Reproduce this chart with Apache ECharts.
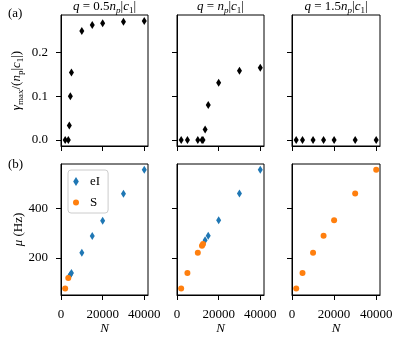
<!DOCTYPE html>
<html>
<head>
<meta charset="utf-8">
<script src="https://cdn.jsdelivr.net/npm/echarts@6/dist/echarts.min.js"></script>
<style>
  html, body { margin: 0; padding: 0; background: #fff; }
  #chart { width: 407px; height: 349px; }
</style>
</head>
<body>
<div id="chart"></div>
<script>
// ---- data ----
// row (a): gamma_max / (n_p |c_1|)
const nA1 = [2000, 3500, 4000, 4500, 5000, 10000, 15000, 20000, 30000, 40000]
const gA1 = [0, 0, 0.033, 0.1, 0.154, 0.249, 0.263, 0.267, 0.270, 0.272]
const nA2 = [2000, 5000, 10000, 12000, 12500, 13500, 15000, 20000, 30000, 40000]
const gA2 = [0, 0, 0, 0, 0, 0.024, 0.08, 0.131, 0.158, 0.165]
const nA3 = [2000, 5000, 10000, 15000, 20000, 30000, 40000]
const gA3 = [0, 0, 0, 0, 0, 0, 0]
// row (b): mu (Hz), split into eI and S
const nB1eI = [4000, 4500, 5000, 10000, 15000, 20000, 30000, 40000]
const muB1eI = [127, 133, 140, 221, 289, 350, 459, 556]
const nB1S = [2000, 3500]
const muB1S = [77, 120]
const nB2eI = [13500, 15000, 20000, 30000, 40000]
const muB2eI = [272, 290, 352, 460, 556]
const nB2S = [2000, 5000, 10000, 12000, 12500]
const muB2S = [77, 140, 221, 250, 257]
const nB3S = [2000, 5000, 10000, 15000, 20000, 30000, 40000]
const muB3S = [77, 140, 221, 290, 352, 460, 556]

const xTicks = [0, 20000, 40000]
const yTicksA = [0, 0.1, 0.2]
const yTicksB = [200, 400]

const FONT = 'Liberation Serif'
const BLUE = '#1f77b4'
const ORANGE = '#ff7f0e'
const DIAMOND = 'path://M5,0L10,8L5,16L0,8Z'

const zip = (a, b) => a.map((v, i) => [v, b[i]])

let myChart = echarts.init(document.getElementById('chart'))

const cols = [{ left: 61, width: 87 }, { left: 177, width: 87 }, { left: 292, width: 88 }]
const rows = [{ top: 15, height: 131 }, { top: 164, height: 131 }]

let grids = []
let xAxes = []
let yAxes = []
rows.forEach((r, ri) => {
  cols.forEach((c, ci) => {
    grids.push({
      left: c.left, top: r.top, width: c.width, height: r.height,
      show: true, borderColor: '#000', borderWidth: 1, backgroundColor: 'transparent'
    })
    let gi = ri * 3 + ci
    xAxes.push({
      gridIndex: gi,
      type: 'value',
      min: 0,
      max: 41800,
      axisLine: { show: true, onZero: false, lineStyle: { color: '#000', width: 1 } },
      axisTick: { show: true, length: 5, customValues: xTicks, lineStyle: { color: '#000' } },
      axisLabel: {
        show: ri === 1, customValues: xTicks, margin: 13,
        color: '#000', fontFamily: FONT, fontSize: 13,
        formatter: v => String(v)
      },
      splitLine: { show: false },
      name: ri === 1 ? 'N' : '',
      nameLocation: 'middle',
      nameGap: 27,
      nameTextStyle: { color: '#000', fontFamily: FONT, fontSize: 13, fontStyle: 'italic' }
    })
    yAxes.push({
      gridIndex: gi,
      type: 'value',
      min: ri === 0 ? -0.0136 : 51,
      max: ri === 0 ? 0.2856 : 579,
      axisLine: { show: true, onZero: false, lineStyle: { color: '#000', width: 1 } },
      axisTick: { show: true, length: 5, customValues: ri === 0 ? yTicksA : yTicksB, lineStyle: { color: '#000' } },
      axisLabel: {
        show: ci === 0, customValues: ri === 0 ? yTicksA : yTicksB, margin: 13,
        color: '#000', fontFamily: FONT, fontSize: 13,
        formatter: v => (ri === 0 ? v.toFixed(1) : String(v))
      },
      splitLine: { show: false }
    })
  })
})

// y axis names on the first column
yAxes[0].name = '{g|γ}{s|max}{t|/(}{i|n}{s|p}{t||}{i|c}{s|1}{t||)}'
yAxes[3].name = '{i|μ}{t| (Hz)}'
;[0, 3].forEach(k => {
  yAxes[k].nameLocation = 'middle'
  yAxes[k].nameGap = 36
  yAxes[k].nameTextStyle = {
    color: '#000', fontFamily: FONT, fontSize: 13,
    rich: {
      g: { fontFamily: FONT, fontSize: 13, fontStyle: 'italic', color: '#000' },
      i: { fontFamily: FONT, fontSize: 13, fontStyle: 'italic', color: '#000' },
      t: { fontFamily: FONT, fontSize: 13, color: '#000' },
      s: { fontFamily: FONT, fontSize: 9, color: '#000', padding: [7, 0, 0, 0] }
    }
  }
})

const titleRich = {
  i: { fontFamily: FONT, fontSize: 13, fontStyle: 'italic', fontWeight: 'normal', color: '#000' },
  t: { fontFamily: FONT, fontSize: 13, fontWeight: 'normal', color: '#000' },
  s: { fontFamily: FONT, fontSize: 9, fontWeight: 'normal', color: '#000', padding: [7, 0, 0, 0] },
  si: { fontFamily: FONT, fontSize: 9, fontStyle: 'italic', fontWeight: 'normal', color: '#000', padding: [7, 0, 0, 0] }
}
const titles = [
  '{i|q}{t| = 0.5}{i|n}{si|p}{t||}{i|c}{s|1}{t||}',
  '{i|q}{t| = }{i|n}{si|p}{t||}{i|c}{s|1}{t||}',
  '{i|q}{t| = 1.5}{i|n}{si|p}{t||}{i|c}{s|1}{t||}'
]

const scatter = (name, gi, data, symbol, size, color) => ({
  name: name,
  type: 'scatter',
  xAxisIndex: gi,
  yAxisIndex: gi,
  data: data,
  symbol: symbol,
  symbolSize: size,
  itemStyle: { color: color, opacity: 1 },
  emphasis: { disabled: true },
  animation: false
})

let option = {
  animation: false,
  grid: grids,
  xAxis: xAxes,
  yAxis: yAxes,
  title: cols.map((c, i) => ({
    text: titles[i],
    left: c.left + c.width / 2,
    top: -1,
    textAlign: 'center',
    padding: 0,
    textStyle: { fontWeight: 'normal', rich: titleRich }
  })),
  legend: {
    left: 68,
    top: 170,
    orient: 'vertical',
    data: [{ name: 'eI', icon: DIAMOND }, { name: 'S', icon: 'circle' }],
    itemWidth: 6,
    itemHeight: 9,
    itemGap: 8,
    padding: [5, 8, 4, 5],
    borderColor: '#cccccc',
    borderWidth: 1,
    borderRadius: 3,
    backgroundColor: 'rgba(255,255,255,0.8)',
    textStyle: { fontFamily: FONT, fontSize: 13, color: '#000', padding: [0, 0, 0, 6] }
  },
  graphic: [
    { type: 'text', left: 8, top: 7, style: { text: '(a)', font: '13px "Liberation Serif"', fill: '#000' } },
    { type: 'text', left: 8, top: 158, style: { text: '(b)', font: '13px "Liberation Serif"', fill: '#000' } }
  ],
  series: [
    scatter('a1', 0, zip(nA1, gA1), 'diamond', [5, 8], '#000'),
    scatter('a2', 1, zip(nA2, gA2), 'diamond', [5, 8], '#000'),
    scatter('a3', 2, zip(nA3, gA3), 'diamond', [5, 8], '#000'),
    scatter('eI', 3, zip(nB1eI, muB1eI), 'diamond', [5, 8], BLUE),
    scatter('S', 3, zip(nB1S, muB1S), 'circle', 6, ORANGE),
    scatter('eI', 4, zip(nB2eI, muB2eI), 'diamond', [5, 8], BLUE),
    scatter('S', 4, zip(nB2S, muB2S), 'circle', 6, ORANGE),
    scatter('S', 5, zip(nB3S, muB3S), 'circle', 6, ORANGE)
  ]
}
myChart.setOption(option)
</script>
</body>
</html>
